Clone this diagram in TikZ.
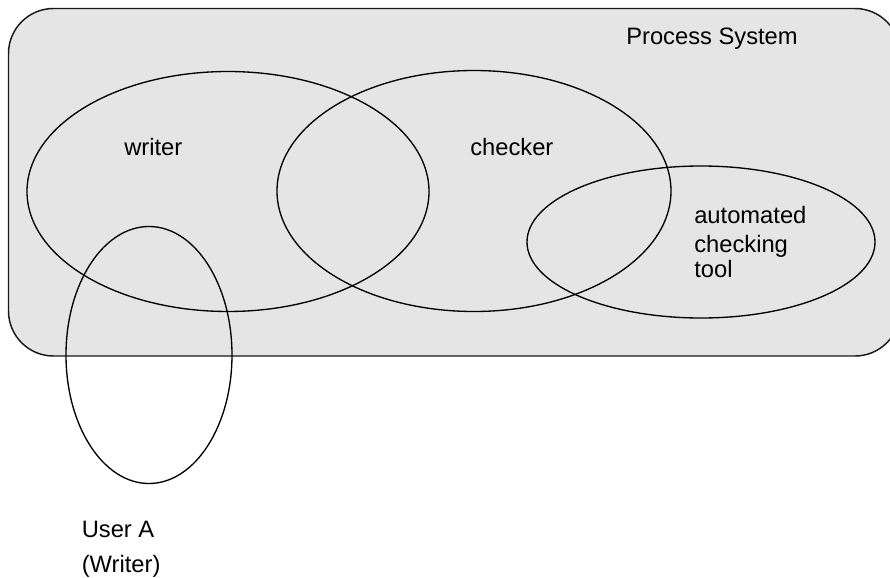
\documentclass[tikz,border=0pt]{standalone}
\usepackage{fontspec}
\setmainfont{Liberation Sans}
\begin{document}
\begin{tikzpicture}[x=0.75pt, y=-0.75pt]
            \tikzset{set/.style={line width=1pt, black},
                     setlabel/.style={anchor=base west, inner sep=0pt, font=\fontsize{17.8}{20}\selectfont}}
            \useasboundingbox (0,0) rectangle (890,578);
            \draw [line width=1.1pt, draw=black!90, fill=black!10, rounded corners=33.75pt] (8.5,8.5) rectangle (900,356);
            \draw[set] (228,191.5) ellipse [x radius=201, y radius=120];
            \draw[set] (474,191) ellipse [x radius=197, y radius=120.5];
            \draw[set] (701,242) ellipse [x radius=174, y radius=76];
            \draw[set] (149,355) ellipse [x radius=83, y radius=128.5];
            \node [setlabel] (procsys) at (626,45) {Process System};
            \node [setlabel] (writer) at (124,155) {writer};
            \node [setlabel] (checker) at (470,155) {checker};
            \node [setlabel] (auto) at (694,223) {automated};
            \node [setlabel] (check) at (694,252) {checking};
            \node [setlabel] (tool) at (694,277) {tool};
            \node [setlabel] (usera) at (81.5,537) {User A};
            \node [setlabel] (role) at (81.5,572) {(Writer)};
\end{tikzpicture}
\end{document}
